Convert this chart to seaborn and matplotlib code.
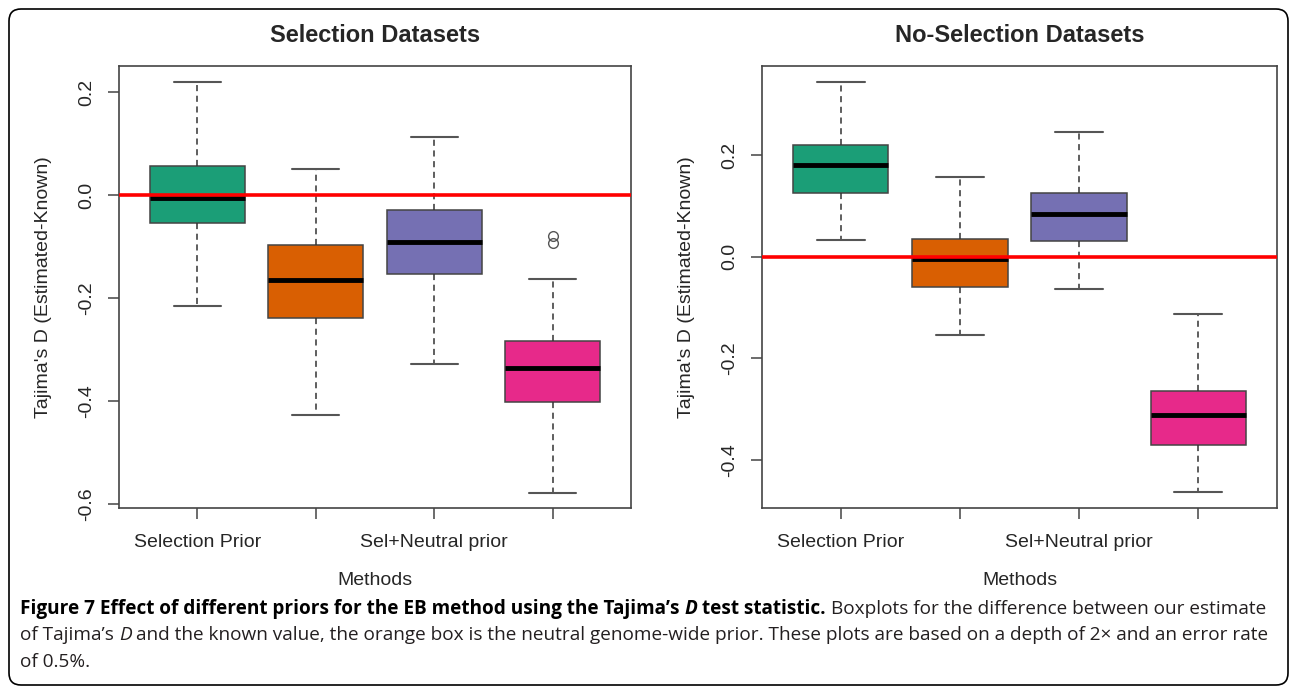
import numpy as np
import pandas as pd
import matplotlib.pyplot as plt
import seaborn as sns
from matplotlib.patches import FancyBboxPatch
from matplotlib.transforms import IdentityTransform

#%% values (whisker low, Q1, median, Q3, whisker high)
methods = ["Selection Prior", "Neutral Prior", "Sel+Neutral prior", "Other Prior"]
tick_labels = ["Selection Prior", "", "Sel+Neutral prior", ""]
colors = ["#1B9E77", "#D95F02", "#7570B3", "#E7298A"]

sel_lo = [-0.216, -0.428, -0.328, -0.578]
sel_q1 = [-0.055, -0.239, -0.153, -0.403]
sel_med = [-0.006, -0.166, -0.092, -0.336]
sel_q3 = [0.056, -0.098, -0.030, -0.283]
sel_hi = [0.219, 0.050, 0.113, -0.163]
sel_out = [[], [], [], [-0.079, -0.094]]

nosel_lo = [0.032, -0.154, -0.064, -0.462]
nosel_q1 = [0.126, -0.059, 0.031, -0.371]
nosel_med = [0.180, -0.005, 0.084, -0.312]
nosel_q3 = [0.220, 0.034, 0.125, -0.263]
nosel_hi = [0.343, 0.156, 0.246, -0.112]
nosel_out = [[], [], [], []]

sel_yticks = [-0.6, -0.4, -0.2, 0.0, 0.2]
nosel_yticks = [-0.4, -0.2, 0.0, 0.2]


def build_table(lo, q1, med, q3, hi, out):
    # long table whose quartiles / whiskers equal the values read above
    rows = []
    for i, m in enumerate(methods):
        vals = [lo[i]] + [q1[i]] * 50 + [med[i]] * 50 + [q3[i]] * 50 + [hi[i]] + out[i]
        rows += [(m, v) for v in vals]
    return pd.DataFrame(rows, columns=["method", "value"])


#%%
sns.set_style("white")
plt.rcParams['font.family'] = ['Liberation Sans', 'DejaVu Sans']
plt.rcParams['axes.unicode_minus'] = False

fig = plt.figure(figsize=(12.9, 6.87), dpi=100)
ax1 = fig.add_axes([119 / 1290, 1 - 508 / 687, 512 / 1290, 442 / 687])
ax2 = fig.add_axes([762 / 1290, 1 - 508 / 687, 515 / 1290, 442 / 687])

panels = [
    (ax1, build_table(sel_lo, sel_q1, sel_med, sel_q3, sel_hi, sel_out),
     "Selection Datasets", sel_yticks, (-0.608, 0.2505)),
    (ax2, build_table(nosel_lo, nosel_q1, nosel_med, nosel_q3, nosel_hi, nosel_out),
     "No-Selection Datasets", nosel_yticks, (-0.494, 0.375)),
]

for ax, df, title, yt, ylim in panels:
    sns.boxplot(data=df, x="method", y="value", hue="method", order=methods,
                hue_order=methods, palette=colors, saturation=1, width=0.8,
                whis=1.5, linecolor="#444444", linewidth=1.1, legend=False,
                medianprops={"color": "black", "linewidth": 3.5},
                whiskerprops={"linestyle": (0, (4, 3)), "color": "#333333"},
                capprops={"color": "#555555", "linewidth": 1.5},
                flierprops={"marker": "o", "markerfacecolor": "none",
                            "markeredgecolor": "#555555", "markersize": 7},
                ax=ax)
    ax.axhline(0, color="red", lw=2.6, zorder=5)
    ax.set_xlim(-0.66, 3.66)
    ax.set_ylim(*ylim)
    ax.set_yticks(yt)
    ax.set_yticklabels([f"{v:.1f}" for v in yt])
    ax.set_xticks(range(len(methods)))
    ax.set_xticklabels(tick_labels)
    ax.tick_params(axis="both", direction="out", length=8, width=1.1,
                   color="#444444", labelsize=14, bottom=True, left=True)
    ax.tick_params(axis="x", pad=10.5)
    ax.tick_params(axis="y", pad=9, labelrotation=90)
    for lab in ax.get_yticklabels():
        lab.set_va("center")
    for s in ax.spines.values():
        s.set_color("#444444")
        s.set_linewidth(1.2)
    ax.set_title(title, fontsize=17, fontweight="bold", pad=17)
    ax.set_xlabel("Methods", fontsize=14, labelpad=15)
    ax.set_ylabel("Tajima's D (Estimated-Known)", fontsize=14, labelpad=19)

#%% caption
r = fig.canvas.get_renderer()
cap_font = ['Liberation Sans Narrow', 'Open Sans', 'DejaVu Sans']
cap_size = 13.7


def width_px(s, **kw):
    t = fig.text(0, 0, s, **kw)
    w = t.get_window_extent(renderer=r).width
    t.remove()
    return w


def draw_line(x_px, y_px, parts):
    x = x_px
    for i, (txt, weight, style) in enumerate(parts):
        kw = dict(fontsize=cap_size, fontweight=weight, fontstyle=style,
                  family=cap_font, color="black" if weight == "bold" else "#231f20")
        if i > 0:
            x += width_px("a a", **kw) - width_px("aa", **kw)
        fig.text(x / 1290, 1 - y_px / 687, txt, va="baseline", ha="left", **kw)
        x += width_px(txt, **kw)


cap1 = [("Figure 7 Effect of different priors for the EB method using the Tajima\u2019s", "bold", "normal"),
        ("D", "bold", "italic"),
        ("test statistic.", "bold", "normal"),
        ("Boxplots for the difference between our estimate", "normal", "normal")]
cap2 = [("of Tajima\u2019s", "normal", "normal"),
        ("D", "normal", "italic"),
        ("and the known value, the orange box is the neutral genome-wide prior. "
         "These plots are based on a depth of 2\u00d7 and an error rate", "normal", "normal")]
cap3 = [("of 0.5%.", "normal", "normal")]

draw_line(20, 614, cap1)
draw_line(20, 640, cap2)
draw_line(20, 667, cap3)

# rounded frame around the whole figure
frame = FancyBboxPatch((9, 2), 1279, 676, boxstyle="round,pad=0,rounding_size=12",
                       transform=IdentityTransform(), fill=False, ec="black", lw=1.2)
fig.patches.append(frame)

fig.savefig("out.png", dpi=100)
